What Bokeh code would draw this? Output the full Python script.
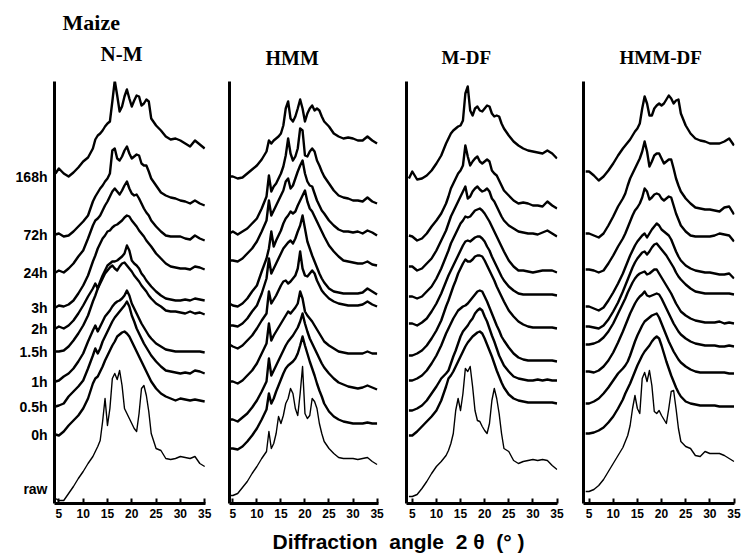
from bokeh.plotting import figure
from bokeh.layouts import row, column
from bokeh.models import FixedTicker, Label
from bokeh.embed import file_html
from bokeh.resources import INLINE

# 2-theta sampling positions (degrees)
TWO_THETA = [4.3, 5, 6, 7, 8, 9, 10, 11, 12,
             12.5, 13, 13.5, 14, 14.5, 15, 15.5, 16, 16.5, 17, 17.5, 18, 18.5, 19,
             19.5, 20, 20.5, 21, 21.5, 22, 22.5, 23, 23.5, 24,
             25, 26, 27, 28, 29, 30, 31, 32, 33, 34, 35]
X_TICKS = [5, 10, 15, 20, 25, 30, 35]
LABELS = ["168h", "72h", "24h", "3h", "2h", "1.5h", "1h", "0.5h", "0h", "raw"]
LABEL_LEVELS = [327, 269, 231, 196, 175, 152, 122, 97, 69, 15]
PANELS = ["N-M", "HMM", "M-DF", "HMM-DF"]
GROUP = "Maize"
NB = "\u00a0"
X_TITLE = "Diffraction" + NB * 2 + "angle" + NB * 2 + "2" + NB + "\u03b8" + NB * 2 + "(\u00b0" + NB + ")"

# ---- N-M (stacked intensity) ----
NM_168H = [330, 335, 330, 327, 331, 336, 342, 346, 355, 364, 368, 370, 373, 377, 380, 382, 402, 423, 408, 392, 397, 407, 414, 405, 397, 403, 408, 407, 398, 400, 404, 402, 385, 378, 373, 367, 364, 365, 363, 360, 357, 363, 359, 355]
NM_72H = [269, 270, 267, 268, 272, 277, 282, 288, 302, 307, 311, 315, 318, 322, 325, 330, 353, 355, 345, 343, 347, 353, 357, 350, 345, 347, 349, 348, 340, 338, 338, 332, 325, 318, 311, 308, 306, 305, 303, 302, 300, 303, 300, 298]
NM_24H = [231, 233, 231, 235, 240, 247, 253, 265, 278, 283, 285, 288, 293, 298, 302, 307, 312, 315, 312, 309, 313, 318, 322, 315, 310, 308, 309, 305, 300, 295, 291, 288, 283, 277, 272, 268, 267, 267, 267, 265, 264, 268, 265, 263]
NM_3H = [196, 198, 197, 199, 203, 210, 218, 228, 242, 248, 255, 260, 265, 268, 272, 273, 276, 278, 279, 281, 283, 286, 288, 287, 283, 280, 277, 273, 270, 267, 263, 260, 257, 250, 245, 240, 237, 236, 235, 235, 234, 237, 236, 234]
NM_2H = [175, 177, 175, 178, 183, 190, 198, 207, 215, 220, 215, 222, 228, 233, 238, 240, 242, 242, 243, 245, 247, 250, 258, 253, 243, 240, 238, 235, 230, 227, 223, 220, 217, 212, 208, 205, 204, 203, 203, 204, 203, 205, 204, 203]
NM_1_5H = [152, 152, 153, 157, 163, 170, 178, 188, 202, 208, 215, 220, 225, 230, 233, 236, 238, 235, 233, 237, 240, 241, 238, 235, 232, 228, 225, 222, 218, 215, 212, 208, 205, 200, 197, 193, 192, 192, 191, 190, 192, 190, 191, 189]
NM_1H = [122, 123, 127, 130, 135, 142, 150, 162, 173, 178, 172, 177, 182, 187, 190, 193, 197, 200, 202, 203, 205, 208, 213, 208, 200, 195, 190, 185, 180, 176, 172, 168, 165, 160, 157, 154, 153, 152, 152, 152, 152, 152, 152, 151]
NM_0_5H = [97, 98, 100, 107, 112, 117, 123, 135, 148, 155, 150, 155, 162, 167, 172, 177, 182, 186, 189, 192, 195, 198, 202, 197, 188, 182, 175, 170, 165, 160, 156, 152, 148, 142, 137, 133, 132, 131, 130, 131, 130, 133, 132, 130]
NM_0H = [69, 68, 72, 78, 83, 88, 95, 105, 120, 125, 127, 132, 137, 143, 148, 153, 158, 162, 167, 169, 171, 172, 170, 167, 162, 157, 152, 147, 142, 137, 132, 127, 122, 115, 110, 107, 105, 103, 105, 104, 103, 104, 103, 102]
NM_RAW = [5, 3, 3, 10, 17, 25, 32, 40, 47, 52, 57, 63, 82, 105, 78, 95, 125, 130, 124, 133, 118, 95, 90, 85, 80, 75, 72, 90, 115, 118, 108, 92, 70, 55, 53, 45, 44, 45, 47, 46, 45, 47, 40, 37]

# ---- HMM ----
HMM_168H = [327, 327, 325, 326, 330, 334, 338, 344, 352, 363, 360, 363, 365, 367, 370, 378, 395, 402, 385, 382, 387, 395, 404, 395, 382, 390, 395, 398, 393, 395, 393, 387, 382, 377, 370, 367, 365, 366, 365, 363, 363, 367, 363, 360]
HMM_72H = [270, 272, 269, 272, 275, 280, 285, 295, 307, 328, 312, 317, 320, 325, 330, 337, 348, 365, 350, 343, 347, 355, 375, 373, 348, 347, 352, 355, 352, 343, 338, 332, 327, 320, 313, 308, 306, 305, 303, 303, 302, 306, 302, 300]
HMM_24H = [243, 243, 242, 245, 250, 255, 262, 272, 283, 303, 288, 293, 298, 303, 308, 313, 322, 325, 315, 318, 325, 332, 338, 343, 330, 322, 318, 317, 310, 303, 298, 293, 290, 283, 278, 274, 272, 272, 271, 272, 270, 273, 271, 268]
HMM_3H = [200, 198, 197, 200, 205, 212, 218, 232, 245, 255, 272, 257, 263, 268, 273, 280, 285, 288, 292, 290, 292, 298, 303, 308, 313, 302, 295, 292, 287, 282, 277, 272, 267, 258, 252, 247, 243, 242, 241, 240, 240, 242, 239, 238]
HMM_2H = [178, 178, 177, 180, 185, 192, 198, 210, 225, 245, 230, 235, 240, 245, 250, 255, 258, 261, 263, 260, 265, 272, 278, 288, 275, 262, 255, 248, 242, 236, 230, 225, 221, 215, 212, 211, 210, 210, 210, 210, 211, 215, 212, 209]
HMM_1_5H = [159, 157, 155, 158, 163, 168, 175, 183, 190, 212, 200, 204, 208, 213, 218, 222, 223, 220, 222, 225, 228, 235, 252, 235, 228, 227, 230, 233, 230, 223, 218, 213, 210, 205, 202, 200, 199, 198, 198, 198, 199, 202, 199, 197]
HMM_1H = [122, 122, 120, 123, 128, 133, 140, 150, 160, 180, 163, 168, 172, 176, 180, 184, 188, 192, 190, 193, 196, 200, 212, 205, 192, 188, 185, 182, 178, 174, 170, 166, 162, 158, 155, 152, 151, 150, 150, 150, 150, 152, 150, 150]
HMM_0_5H = [84, 84, 82, 86, 90, 96, 103, 112, 122, 145, 128, 133, 138, 143, 148, 153, 158, 162, 165, 168, 172, 176, 182, 190, 180, 172, 165, 160, 155, 150, 145, 140, 136, 130, 125, 121, 119, 117, 116, 115, 116, 118, 116, 114]
HMM_0H = [55, 55, 54, 57, 62, 68, 75, 84, 94, 110, 100, 105, 112, 118, 124, 130, 135, 138, 140, 142, 145, 150, 158, 167, 158, 150, 142, 135, 128, 120, 113, 107, 100, 92, 87, 84, 82, 81, 80, 80, 80, 81, 80, 80]
HMM_RAW = [8, 8, 10, 16, 22, 30, 37, 45, 52, 72, 55, 60, 70, 87, 80, 88, 100, 105, 115, 110, 95, 88, 110, 137, 90, 85, 88, 105, 102, 95, 80, 70, 62, 55, 50, 46, 45, 45, 45, 44, 45, 46, 42, 39]

# ---- M-DF ----
MDF_168H = [325, 332, 324, 325, 328, 333, 340, 348, 360, 365, 370, 373, 375, 377, 378, 383, 410, 417, 393, 388, 395, 397, 393, 392, 395, 398, 397, 390, 387, 388, 387, 380, 375, 368, 362, 358, 355, 353, 352, 351, 350, 353, 350, 345]
MDF_72H = [268, 267, 263, 265, 270, 277, 283, 290, 300, 307, 315, 320, 325, 330, 333, 338, 358, 347, 338, 342, 345, 347, 342, 340, 342, 344, 342, 333, 330, 328, 323, 318, 313, 308, 303, 300, 301, 300, 298, 298, 297, 302, 298, 295]
MDF_24H = [237, 237, 233, 235, 240, 245, 253, 263, 273, 280, 287, 292, 297, 302, 307, 312, 317, 305, 307, 312, 315, 317, 314, 312, 313, 315, 312, 305, 302, 297, 292, 287, 283, 278, 275, 272, 271, 270, 270, 269, 271, 273, 270, 267]
MDF_3H = [207, 207, 205, 207, 212, 217, 225, 235, 247, 253, 260, 265, 270, 275, 280, 283, 287, 286, 287, 290, 293, 294, 295, 293, 290, 286, 282, 277, 272, 267, 262, 257, 252, 243, 237, 233, 233, 232, 231, 232, 233, 233, 233, 231]
MDF_2H = [180, 180, 178, 181, 185, 192, 200, 210, 222, 228, 233, 238, 243, 248, 253, 258, 262, 263, 262, 264, 266, 267, 267, 265, 262, 257, 253, 247, 242, 237, 232, 227, 223, 217, 213, 210, 209, 209, 209, 209, 209, 209, 209, 208]
MDF_1_5H = [148, 148, 150, 153, 158, 165, 173, 183, 197, 203, 210, 217, 223, 230, 235, 240, 244, 242, 242, 244, 247, 248, 248, 247, 243, 238, 233, 228, 223, 217, 212, 207, 202, 193, 187, 182, 179, 177, 176, 176, 176, 176, 176, 175]
MDF_1H = [123, 123, 125, 128, 133, 140, 148, 158, 170, 175, 180, 185, 189, 193, 195, 197, 198, 200, 203, 206, 209, 212, 213, 212, 207, 202, 196, 190, 184, 178, 173, 167, 163, 156, 150, 146, 144, 143, 143, 143, 143, 143, 143, 142]
MDF_0_5H = [93, 93, 95, 98, 103, 110, 117, 125, 130, 133, 140, 147, 153, 160, 167, 172, 175, 178, 182, 185, 190, 193, 195, 193, 187, 182, 175, 168, 162, 155, 148, 143, 138, 132, 127, 125, 124, 123, 123, 124, 123, 124, 123, 123]
MDF_0H = [68, 68, 72, 77, 82, 87, 93, 103, 117, 125, 128, 132, 137, 142, 147, 152, 157, 161, 164, 167, 169, 171, 172, 170, 165, 159, 153, 147, 140, 133, 127, 121, 116, 109, 105, 103, 102, 101, 101, 101, 101, 101, 101, 100]
MDF_RAW = [7, 7, 9, 15, 22, 30, 37, 42, 48, 53, 60, 70, 93, 105, 93, 110, 135, 132, 137, 117, 93, 83, 82, 77, 73, 70, 80, 103, 115, 105, 90, 70, 55, 52, 43, 40, 42, 43, 44, 43, 44, 43, 38, 34]

# ---- HMM-DF ----
HDF_168H = [332, 332, 328, 323, 327, 333, 340, 348, 355, 358, 361, 364, 368, 372, 375, 380, 395, 407, 400, 388, 388, 395, 398, 400, 398, 400, 404, 408, 405, 400, 403, 404, 390, 378, 370, 365, 363, 362, 360, 360, 360, 362, 365, 358]
HDF_72H = [270, 270, 268, 266, 270, 278, 287, 297, 305, 310, 318, 325, 330, 335, 340, 345, 352, 362, 352, 337, 342, 348, 350, 350, 345, 340, 342, 344, 344, 335, 325, 318, 312, 305, 300, 296, 295, 294, 294, 293, 292, 296, 297, 289]
HDF_24H = [234, 234, 233, 231, 233, 240, 248, 257, 265, 270, 276, 282, 288, 293, 296, 300, 306, 315, 312, 304, 306, 309, 310, 309, 305, 303, 305, 307, 306, 298, 290, 284, 278, 272, 268, 267, 267, 267, 267, 268, 270, 269, 268, 262]
HDF_3H = [197, 197, 195, 193, 196, 203, 211, 220, 230, 236, 242, 248, 253, 258, 262, 265, 268, 270, 266, 270, 274, 277, 280, 278, 274, 272, 270, 268, 264, 258, 252, 247, 243, 238, 235, 233, 232, 231, 231, 230, 229, 229, 230, 225]
HDF_2H = [177, 177, 176, 175, 178, 184, 192, 201, 212, 218, 224, 230, 236, 241, 245, 248, 251, 252, 249, 252, 256, 259, 260, 257, 254, 251, 248, 244, 240, 236, 231, 227, 224, 219, 215, 212, 211, 210, 210, 210, 210, 210, 210, 209]
HDF_1_5H = [159, 159, 160, 162, 166, 172, 180, 190, 200, 205, 211, 216, 221, 225, 228, 230, 231, 232, 229, 230, 232, 234, 234, 230, 226, 222, 218, 214, 210, 205, 200, 196, 192, 188, 185, 183, 182, 181, 181, 181, 182, 180, 181, 180]
HDF_1H = [132, 132, 131, 133, 137, 143, 151, 161, 172, 178, 184, 190, 195, 200, 204, 207, 209, 212, 208, 207, 208, 209, 210, 209, 205, 200, 195, 190, 185, 180, 176, 172, 169, 165, 162, 160, 159, 158, 158, 158, 157, 157, 158, 157]
HDF_0_5H = [100, 100, 102, 105, 110, 116, 123, 130, 135, 138, 142, 148, 155, 162, 168, 173, 178, 182, 184, 186, 188, 189, 190, 186, 180, 174, 168, 162, 157, 152, 148, 144, 141, 137, 134, 132, 131, 131, 131, 131, 131, 131, 130, 130]
HDF_0H = [70, 70, 71, 73, 76, 81, 87, 95, 104, 110, 115, 120, 126, 132, 138, 143, 148, 152, 155, 158, 162, 165, 167, 165, 158, 150, 142, 135, 128, 122, 116, 111, 107, 102, 100, 99, 98, 98, 98, 98, 97, 97, 97, 97]
HDF_RAW = [12, 12, 14, 18, 24, 32, 40, 48, 56, 62, 68, 78, 95, 108, 95, 90, 125, 131, 122, 133, 118, 92, 90, 93, 88, 84, 80, 95, 112, 113, 95, 75, 62, 57, 55, 48, 47, 52, 50, 50, 50, 48, 45, 42]

NM = [NM_168H, NM_72H, NM_24H, NM_3H, NM_2H, NM_1_5H, NM_1H, NM_0_5H, NM_0H, NM_RAW]
HMM = [HMM_168H, HMM_72H, HMM_24H, HMM_3H, HMM_2H, HMM_1_5H, HMM_1H, HMM_0_5H, HMM_0H, HMM_RAW]
MDF = [MDF_168H, MDF_72H, MDF_24H, MDF_3H, MDF_2H, MDF_1_5H, MDF_1H, MDF_0_5H, MDF_0H, MDF_RAW]
HDF = [HDF_168H, HDF_72H, HDF_24H, HDF_3H, HDF_2H, HDF_1_5H, HDF_1H, HDF_0_5H, HDF_0H, HDF_RAW]

SANS = "Liberation Sans"
SERIF = "Liberation Serif"
HEAD_H = 70


def blank(width, height):
    f = figure(width=width, height=height, x_range=(0, width), y_range=(0, height),
               toolbar_location=None, output_backend="svg",
               x_axis_location=None, y_axis_location=None, min_border=0)
    f.grid.visible = False
    f.outline_line_color = None
    f.background_fill_color = "white"
    f.border_fill_color = "white"
    return f


def panel(traces, xr, width, left, right, with_labels=False):
    p = figure(width=width, height=528 - HEAD_H, x_range=xr, y_range=(0, 422),
               toolbar_location=None, output_backend="svg",
               min_border_left=left, min_border_right=right,
               min_border_top=81 - HEAD_H, min_border_bottom=25)
    p.grid.visible = False
    p.outline_line_color = None
    p.background_fill_color = "white"
    p.border_fill_color = "white"
    for i, tr in enumerate(traces):
        p.line(TWO_THETA, tr, line_color="black",
               line_width=1.4 if i == len(traces) - 1 else 2.4,
               line_join="round")
    xa = p.xaxis[0]
    xa.ticker = FixedTicker(ticks=X_TICKS)
    xa.axis_line_width = 3
    xa.axis_line_color = "black"
    xa.major_tick_in = 5
    xa.major_tick_out = 0
    xa.major_tick_line_width = 2
    xa.major_tick_line_color = "black"
    xa.major_label_text_font = SANS
    xa.major_label_text_font_style = "bold"
    xa.major_label_text_font_size = "12px"
    xa.major_label_text_color = "black"
    xa.major_label_standoff = 5
    ya = p.yaxis[0]
    ya.axis_line_width = 3
    ya.axis_line_color = "black"
    ya.major_tick_in = 0
    ya.major_tick_out = 0
    ya.minor_tick_in = 0
    ya.minor_tick_out = 0
    if with_labels:
        ya.ticker = FixedTicker(ticks=LABEL_LEVELS)
        ya.major_label_overrides = {v: t for v, t in zip(LABEL_LEVELS, LABELS)}
        ya.major_label_text_font = SANS
        ya.major_label_text_font_style = "bold"
        ya.major_label_text_font_size = "14px"
        ya.major_label_text_color = "black"
        ya.major_label_standoff = 7
    else:
        ya.ticker = FixedTicker(ticks=[])
    return p


head = blank(742, HEAD_H)
# (left x, centre y from top, font size) for the header texts
head_specs = [(GROUP, 62, 22, "22px"), (PANELS[0], 100, 53, "21px"),
              (PANELS[1], 265, 57, "20px"), (PANELS[2], 441, 57, "19px"),
              (PANELS[3], 619, 57, "19px")]
for txt, hx, hy, fs in head_specs:
    head.add_layout(Label(x=hx, y=HEAD_H - hy, text=txt, text_align="left",
                          text_baseline="middle", text_font=SERIF,
                          text_font_style="bold", text_color="black",
                          text_font_size=fs))

f1 = panel(NM, (4.1, 35.17), 215, 54, 10, with_labels=True)
f2 = panel(HMM, (4.3, 35.3), 175, 14, 12)
f3 = panel(MDF, (3.8, 35.1), 181, 16, 14)
f4 = panel(HDF, (3.85, 35.1), 171, 12, 8)

foot = blank(742, 27)
foot.add_layout(Label(x=398, y=14, text=X_TITLE, text_align="center",
                      text_baseline="middle", text_font=SANS,
                      text_color="black",
                      text_font_style="bold", text_font_size="21px"))

layout = column(head, row(f1, f2, f3, f4, spacing=0), foot, spacing=0)
open("out.html", "w").write(file_html(layout, INLINE))
